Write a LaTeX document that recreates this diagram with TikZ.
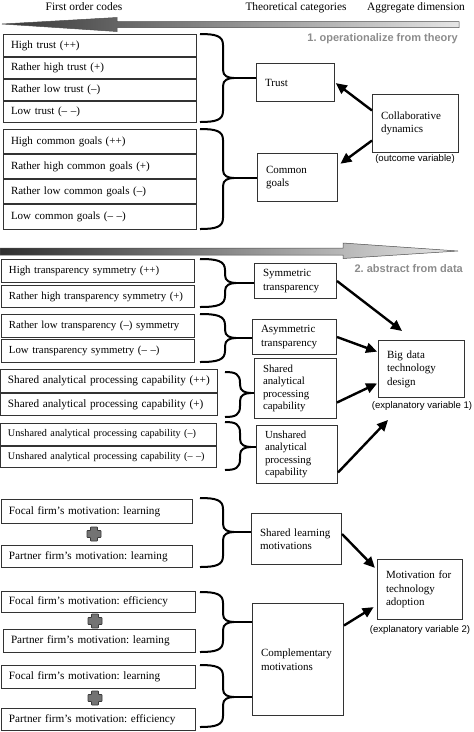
\documentclass[tikz,border=0pt]{standalone}
\usepackage{fontspec}
\setmainfont{Liberation Serif}
\setsansfont{Liberation Sans}
\usetikzlibrary{arrows.meta,calc}
\frenchspacing
\tikzset{
  boxline/.style={draw=black!80, line width=1pt},
  codebox/.style={boxline, anchor=north west, inner xsep=7.5pt, inner ysep=0pt, align=left, font=\fontsize{11}{13}\selectfont},
  catbox/.style={boxline, anchor=north west, inner xsep=8.5pt, inner ysep=0pt, align=left, font=\fontsize{11}{13.5}\selectfont},
  bracestyle/.style={line width=2pt, line join=miter, draw=black},
  tipline/.style={line width=2pt},
  arr/.style={line width=2.4pt, -{Triangle[length=11pt,width=10pt]}},
  note/.style={font=\sffamily\fontsize{9.6}{11}\selectfont, inner sep=0pt},
  phase/.style={font=\sffamily\bfseries\fontsize{11}{13}\selectfont, text=black!45, inner sep=0pt},
  head/.style={font=\fontsize{11.4}{13}\selectfont, inner sep=0pt},
  plusshape/.style={fill=black!55, draw=black!78, line width=0.6pt, rounded corners=0.6pt},
  bigarrow/.style={draw=black!70, line width=0.5pt},
}
% code box: [opts] name x y w h text
\newcommand\cbox[7][]{%
  \pgfmathsetmacro\tw{#5-15}%
  \node[codebox, #1, minimum width=#5pt, minimum height=#6pt, text width=\tw pt] (#2) at (#3,#4) {#7};}
% category box: [opts] name x y w h text
\newcommand\tbox[7][]{%
  \pgfmathsetmacro\tw{#5-17}%
  \node[catbox, #1, minimum width=#5pt, minimum height=#6pt, text width=\tw pt] (#2) at (#3,#4) {#7};}
% brace: name x0 vx ytop ybot ymid
\newcommand\cbrace[6]{%
  \draw[bracestyle] (#2,#4) .. controls ({#2+0.7*(#3-#2)},#4) and (#3,{#4+2}) .. (#3,{#4+11})
    -- (#3,{#6-8}) .. controls (#3,{#6-2}) and ({#3+5},#6) .. ({#3+11},#6)
    .. controls ({#3+5},#6) and (#3,{#6+2}) .. (#3,{#6+8})
    -- (#3,{#5-11}) .. controls (#3,{#5-2}) and ({#2+0.7*(#3-#2)},#5) .. (#2,#5);
  \coordinate (#1) at ({#3+10},#6);}
% plus sign at cx cy
\newcommand\plusmark[2]{%
  \filldraw[plusshape] ({#1-3.5},{#2-7}) -- ({#1+3.5},{#2-7}) -- ({#1+3.5},{#2-3.5}) -- ({#1+7},{#2-3.5})
   -- ({#1+7},{#2+3.5}) -- ({#1+3.5},{#2+3.5}) -- ({#1+3.5},{#2+7}) -- ({#1-3.5},{#2+7})
   -- ({#1-3.5},{#2+3.5}) -- ({#1-7},{#2+3.5}) -- ({#1-7},{#2-3.5}) -- ({#1-3.5},{#2-3.5}) -- cycle;}
\begin{document}
\begin{tikzpicture}[x=1pt, y=-1pt]
\useasboundingbox (0,0) rectangle (474,732);

% headers
\node[head, anchor=base] (h1) at (84,10) {First order codes};
\node[head, anchor=base] (h2) at (296,10) {Theoretical categories};
\node[head, anchor=base] (h3) at (416,10) {Aggregate dimension};

% big arrows
\shade[bigarrow, left color=black!78, right color=black!10]
  (2,24) -- (117,17.5) -- (117,21.5) -- (459,21.5) -- (459,27.5) -- (117,27.5) -- (117,31.5) -- cycle;
\shade[bigarrow, left color=black!82, right color=black!10]
  (0,248) -- (343,248) -- (343,243) -- (458,251) -- (343,258.5) -- (343,255) -- (0,255) -- cycle;

\node[phase, anchor=base east] (p1) at (458,41) {1. operationalize from theory};
\node[phase, anchor=base east] (p2) at (463,272) {2. abstract from data};

% ---- section 1: codes
\cbox{c1}{3}{34}{193}{22}{High trust (++)}
\cbox{c2}{3}{57}{193}{21}{Rather high trust (+)}
\cbox{c3}{3}{79}{193}{21}{Rather low trust (–)}
\cbox{c4}{3}{101}{193}{21}{Low trust (– –)}
\cbox{c5}{3}{129}{193}{24}{High common goals (++)}
\cbox{c6}{3}{154}{193}{24}{Rather high common goals (+)}
\cbox{c7}{3}{179}{193}{24}{Rather low common goals (–)}
\cbox{c8}{3}{204}{193}{25}{Low common goals (– –)}

\tbox{trust}{256}{63}{78}{38}{Trust}
\tbox{goals}{257}{153}{80}{48}{Common\\goals}
\tbox{collab}{372}{94}{86}{58}{Collaborative\\dynamics}
\node[note] (n1) at (415,159) {(outcome variable)};

\cbrace{b1}{200}{223}{34}{122}{78}
\cbrace{b2}{200}{223}{129}{229}{178}
\draw[tipline] (b1) -- (b1 -| trust.west);
\draw[tipline] (b2) -- (b2 -| goals.west);

\draw[arr, shorten >=1pt] ([yshift=13pt]collab.west) -- (trust.east);
\draw[arr, shorten >=3pt] ([yshift=-17pt]collab.west) -- ([yshift=12pt]goals.east);

% ---- section 2: codes
\cbox[font=\fontsize{10.8}{13}\selectfont]{t1}{1}{259}{193}{23}{High transparency symmetry (++)}
\cbox[font=\fontsize{10.8}{13}\selectfont]{t2}{1}{285}{193}{22}{Rather high transparency symmetry (+)}
\cbox[font=\fontsize{10.8}{13}\selectfont]{t3}{1}{314}{193}{23}{Rather low transparency (–) symmetry}
\cbox[font=\fontsize{10.8}{13}\selectfont]{t4}{1}{339}{193}{23}{Low transparency symmetry (– –)}
\cbox[font=\fontsize{11.2}{13}\selectfont, inner xsep=7pt]{a1}{0}{369}{217}{23}{Shared analytical processing capability (++)}
\cbox[font=\fontsize{11.2}{13}\selectfont, inner xsep=7pt]{a2}{0}{393}{217}{22}{Shared analytical processing capability (+)}
\cbox[font=\fontsize{10.2}{12}\selectfont, inner xsep=7pt]{a3}{0}{423}{216}{22}{Unshared analytical processing capability (–)}
\cbox[font=\fontsize{10.2}{12}\selectfont, inner xsep=7pt]{a4}{0}{446}{216}{21}{Unshared analytical processing capability (– –)}

\tbox{symm}{254}{263}{82}{35}{Symmetric\\transparency}
\tbox{asym}{252}{319}{84}{35}{Asymmetric\\transparency}
\tbox[font=\fontsize{10.8}{12.5}\selectfont]{shared}{254}{358}{82}{60}{Shared\\analytical\\processing\\capability}
\tbox[font=\fontsize{10.8}{12.5}\selectfont]{unshared}{256}{425}{81}{58}{Unshared\\analytical\\processing\\capability}
\tbox{bigdata}{378}{340}{86}{57}{Big data\\technology\\design}
\node[note] (n2) at (422,406) {(explanatory variable 1)};

\cbrace{b3}{200}{225}{259}{307}{283}
\cbrace{b4}{200}{225}{314}{362}{338}
\cbrace{b5}{225}{240}{372}{417}{393}
\cbrace{b6}{225}{240}{422}{470}{447}
\draw[tipline] (b3) -- (b3 -| symm.west);
\draw[tipline] (b4) -- (b4 -| asym.west);
\draw[tipline] (b5) -- (b5 -| shared.west);
\draw[tipline] (b6) -- (b6 -| unshared.west);

\draw[arr] (symm.east) -- ([xshift=24pt,yshift=9pt]bigdata.north west);
\draw[arr, shorten >=1pt] (asym.east) -- ([yshift=-12pt]bigdata.north west);
\draw[arr, shorten >=1pt] ([yshift=-14pt]shared.east) -- ([yshift=-43pt]bigdata.north west);
\draw[arr] ([yshift=-18pt]unshared.east) -- ([xshift=10pt,yshift=-22pt]bigdata.south west);

% ---- section 3: motivations
\cbox[font=\fontsize{11.2}{13}\selectfont]{m1}{1}{499}{191}{24}{Focal firm’s motivation: learning}
\cbox[font=\fontsize{11.2}{13}\selectfont]{m2}{1}{545}{191}{22}{Partner firm’s motivation: learning}
\cbox[font=\fontsize{11.2}{13}\selectfont]{m3}{1}{591}{194}{21}{Focal firm’s motivation: efficiency}
\cbox[font=\fontsize{11.2}{13}\selectfont]{m4}{3}{629}{192}{23}{Partner firm’s motivation: learning}
\cbox[font=\fontsize{11.2}{13}\selectfont]{m5}{1}{665}{194}{23}{Focal firm’s motivation: learning}
\cbox[font=\fontsize{11.2}{13}\selectfont]{m6}{1}{708}{194}{22}{Partner firm’s motivation: efficiency}
\plusmark{94}{534}
\plusmark{95}{621}
\plusmark{95}{698}

\tbox{slearn}{251}{513}{90}{51}{Shared learning\\motivations}
\tbox{compl}{252}{603}{91}{112}{Complementary\\motivations}
\tbox{motiv}{377}{559}{85}{60}{Motivation for\\technology\\adoption}
\node[note] (n3) at (420,630) {(explanatory variable 2)};

\cbrace{b7}{200}{223}{498}{567}{532}
\cbrace{b8}{200}{223}{592}{652}{622}
\cbrace{b9}{200}{223}{665}{727}{697}
\draw[tipline] (b7) -- (b7 -| slearn.west);
\draw[tipline] (b8) -- (b8 -| compl.west);
\draw[tipline] (b9) -- (b9 -| compl.west);

\draw[arr, shorten >=3pt] ([yshift=5pt]slearn.east) -- ([yshift=-11pt]motiv.north west);
\draw[arr, shorten >=4pt] ([yshift=34pt]compl.east) -- ([yshift=15pt]motiv.south west);
\end{tikzpicture}
\end{document}
